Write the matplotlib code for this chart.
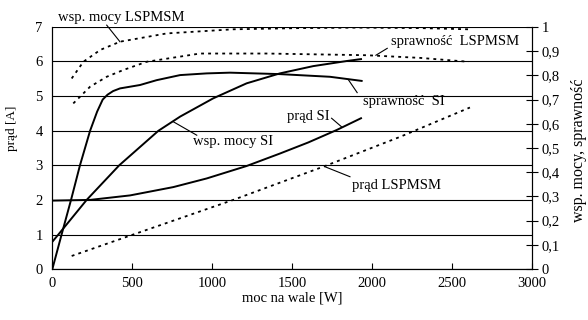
import matplotlib
matplotlib.use("Agg")
import matplotlib.pyplot as plt
from matplotlib.ticker import FixedLocator

plt.rcParams["font.family"] = "Liberation Serif"
plt.rcParams["font.size"] = 10.5

# prad SI [A]
p_prad_si = [0, 236, 486, 756, 965, 1215, 1423, 1600, 1778, 1930]
prad_si = [1.98, 2.0, 2.13, 2.37, 2.62, 2.98, 3.34, 3.66, 4.02, 4.36]

# prad LSPMSM [A]
p_prad_lspmsm = [121, 506, 1131, 1694, 2173, 2611]
prad_lspmsm = [0.38, 1.0, 2.0, 2.96, 3.82, 4.67]

# sprawnosc SI
p_spr_si = [0, 58, 117, 173, 236, 280, 315, 345, 380, 423, 548, 652, 799, 965, 1111, 1423, 1736, 1934]
spr_si = [0, 0.143, 0.286, 0.429, 0.571, 0.65, 0.70, 0.72, 0.735, 0.746, 0.760, 0.780, 0.801, 0.808, 0.811, 0.805, 0.794, 0.777]

# wsp. mocy SI
p_wsp_si = [0, 38, 215, 419, 663, 800, 1006, 1215, 1423, 1631, 1840, 1930]
wsp_si = [0.113, 0.143, 0.286, 0.429, 0.571, 0.63, 0.705, 0.767, 0.808, 0.838, 0.859, 0.867]

# wsp. mocy LSPMSM
p_wsp_lspmsm = [121, 194, 300, 424, 715, 1131, 1548, 1923, 2300, 2602]
wsp_lspmsm = [0.787, 0.856, 0.905, 0.939, 0.973, 0.99, 0.995, 0.997, 0.995, 0.99]

# sprawnosc LSPMSM
p_spr_lspmsm = [131, 236, 340, 444, 590, 923, 1340, 1965, 2300, 2602]
spr_lspmsm = [0.684, 0.753, 0.794, 0.822, 0.856, 0.89, 0.89, 0.883, 0.872, 0.856]

right_ticks = [0, 0.1, 0.2, 0.3, 0.4, 0.5, 0.6, 0.7, 0.8, 0.9, 1]
right_labels = ["0", "0,1", "0,2", "0,3", "0,4", "0,5", "0,6", "0,7", "0,8", "0,9", "1"]

fig = plt.figure(figsize=(5.88, 3.2), dpi=100)
ax = fig.add_axes([0.089, 0.159, 0.816, 0.757])
ax2 = ax.twinx()

ax.set_xlim(0, 3000)
ax.set_ylim(0, 7)
ax2.set_ylim(0, 1)

ax.set_yticks(range(0, 8))
ax.set_xticks(range(0, 3001, 500))
ax.grid(axis="y", color="black", linewidth=0.8)
ax.tick_params(axis="y", length=0, pad=7)
ax.tick_params(axis="x", direction="in", length=4, pad=6)
ax2.yaxis.set_major_locator(FixedLocator(right_ticks))
ax2.set_yticklabels(right_labels)
ax2.tick_params(axis="y", direction="inout", length=8, pad=3)

for a in (ax, ax2):
    for s in a.spines.values():
        s.set_linewidth(0.8)
    a.spines["top"].set_visible(False)

dash = (0, (1.6, 2.3))
ax.plot(p_prad_si, prad_si, color="black", lw=1.4)
ax.plot(p_prad_lspmsm, prad_lspmsm, color="black", lw=1.3, linestyle=dash)
ax2.plot(p_spr_si, spr_si, color="black", lw=1.4)
ax2.plot(p_wsp_si, wsp_si, color="black", lw=1.4)
ax2.plot(p_wsp_lspmsm, wsp_lspmsm, color="black", lw=1.3, linestyle=dash)
ax2.plot(p_spr_lspmsm, spr_lspmsm, color="black", lw=1.3, linestyle=dash)

ax.set_xlabel("moc na wale [W]", labelpad=1)
ax.set_ylabel("prąd [A]", fontsize=9.5)
ax.yaxis.set_label_coords(-0.072, 0.58)
ax2.set_ylabel("wsp. mocy, sprawność", fontsize=11.5)
ax2.yaxis.set_label_coords(1.08, 0.49)

# opisy krzywych z liniami odniesienia
notes = [
    ("wsp. mocy LSPMSM", 36, 7.28, (340, 7.05), (423, 6.57)),
    ("sprawność  LSPMSM", 2115, 6.57, (2094, 6.38), (2023, 6.18)),
    ("sprawność  SI", 1944, 4.84, (1906, 5.10), (1850, 5.48)),
    ("prąd SI", 1465, 4.42, (1746, 4.36), (1809, 4.11)),
    ("wsp. mocy SI", 881, 3.68, (903, 3.87), (756, 4.26)),
    ("prąd LSPMSM", 1871, 2.43, (1861, 2.67), (1704, 2.96)),
]
for txt, tx, ty, p1, p2 in notes:
    ax.text(tx, ty, txt, ha="left", va="center", clip_on=False)
    ax.plot([p1[0], p2[0]], [p1[1], p2[1]], color="black", lw=0.8, clip_on=False)

fig.savefig("out.png", dpi=100)
